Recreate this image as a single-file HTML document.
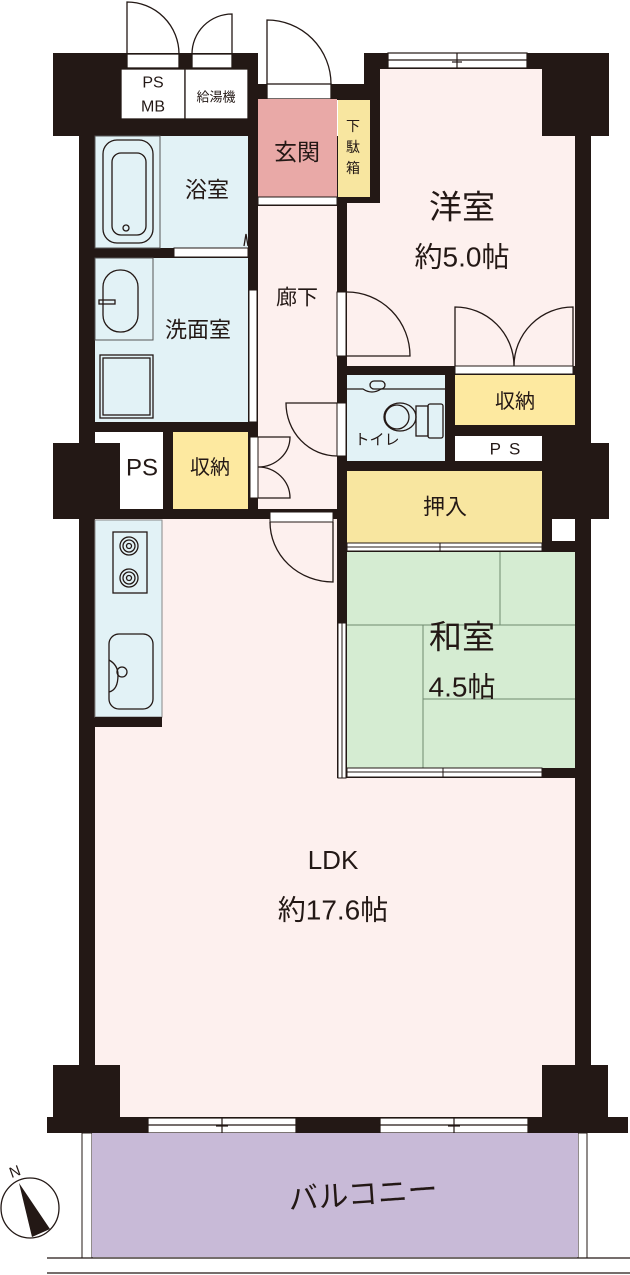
<!DOCTYPE html>
<html><head><meta charset="utf-8"><style>
html,body{margin:0;padding:0;background:#fff;}
svg{display:block;}
text{font-family:"Liberation Sans","Noto Sans CJK JP",sans-serif;fill:#231815;text-anchor:middle;dominant-baseline:central;}
</style></head><body>
<svg width="630" height="1275" viewBox="0 0 630 1275" xmlns="http://www.w3.org/2000/svg">
<g fill="#231815">
<rect x="53" y="53" width="205" height="83"/>
<rect x="248" y="84" width="120" height="16"/>
<rect x="364" y="53" width="245" height="83"/>
<rect x="79" y="136" width="512" height="981"/>
<rect x="53" y="443" width="67" height="76"/>
<rect x="542" y="443" width="67" height="76"/>
<rect x="47" y="1117" width="581" height="16"/>
</g>
<!-- top doors -->
<g fill="#fff" stroke="#231815" stroke-width="1.3">
<rect x="127" y="54" width="52" height="14"/>
<rect x="192" y="54" width="40" height="14"/>
<rect x="267" y="84" width="64" height="15"/>
<rect x="121" y="69" width="64" height="50"/>
<rect x="185" y="69" width="63" height="50"/>
</g>
<g fill="none" stroke="#231815" stroke-width="1.3">
<path d="M127 54 V2 A52 52 0 0 1 179 54"/>
<path d="M232 54 V14 A40 40 0 0 0 192 54"/>
<path d="M267 84 V20 A64 64 0 0 1 331 84"/>
</g>
<!-- windows -->
<g fill="#fff" stroke="#231815" stroke-width="1.2">
<rect x="388" y="53" width="139" height="15"/>
<rect x="148" y="1118" width="148" height="15"/>
<rect x="380" y="1118" width="148" height="15"/>
</g>
<g stroke="#231815" stroke-width="1.2">
<line x1="388" y1="60" x2="527" y2="60"/><line x1="457" y1="53" x2="457" y2="68"/><line x1="452" y1="62" x2="462" y2="62"/>
<line x1="148" y1="1125" x2="296" y2="1125"/><line x1="222" y1="1118" x2="222" y2="1133"/><line x1="216" y1="1126" x2="228" y2="1126"/>
<line x1="380" y1="1125" x2="528" y2="1125"/><line x1="454" y1="1118" x2="454" y2="1133"/><line x1="448" y1="1126" x2="460" y2="1126"/>
</g>
<!-- rooms -->
<rect x="258" y="99" width="79" height="98" fill="#e9a9a7"/>
<rect x="338" y="100" width="32" height="97" fill="#f8e6a0"/>
<rect x="258" y="197" width="79" height="8" fill="#fff" stroke="#231815" stroke-width="1"/>
<rect x="258" y="206" width="79" height="303" fill="#fdf0ee"/>
<polygon points="380,69 542,69 542,136 575,136 575,366 347,366 347,203 380,203" fill="#fdf0ee"/>
<rect x="95" y="136" width="153" height="112" fill="#e2f2f6"/>
<rect x="95" y="136" width="65" height="112" fill="none" stroke="#555" stroke-width="1"/>
<rect x="174" y="248" width="74" height="9" fill="#fff" stroke="#231815" stroke-width="1"/>
<rect x="95" y="258" width="153" height="164" fill="#e2f2f6"/>
<rect x="95" y="258" width="58" height="82" fill="none" stroke="#555" stroke-width="1"/>
<rect x="249" y="290" width="8" height="132" fill="#fff" stroke="#231815" stroke-width="1"/>
<rect x="95" y="432" width="68" height="77" fill="#fff"/>
<rect x="53" y="443" width="67" height="76" fill="#231815"/>
<rect x="173" y="432" width="75" height="77" fill="#fde9a0"/>
<rect x="250" y="437" width="8" height="61" fill="#fff" stroke="#231815" stroke-width="1"/>
<rect x="347" y="375" width="98" height="86" fill="#e2f2f6"/>
<rect x="455" y="375" width="120" height="50" fill="#fde9a0"/>
<rect x="455" y="436" width="87" height="25" fill="#fff"/>
<rect x="347" y="471" width="195" height="72" fill="#f8e6a0"/>
<rect x="552" y="519" width="23" height="22" fill="#fff"/>
<rect x="347" y="552" width="228" height="216" fill="#d5ecd2"/>
<g stroke="#6f8a6f" stroke-width="1"><line x1="500" y1="552" x2="500" y2="625"/><line x1="347" y1="625" x2="575" y2="625"/><line x1="423" y1="625" x2="423" y2="768"/><line x1="423" y1="699" x2="575" y2="699"/></g>
<polygon points="95,519 337,519 337,778 575,778 575,1117 95,1117" fill="#fdf0ee"/>
<rect x="53" y="1065" width="67" height="52" fill="#231815"/>
<rect x="542" y="1065" width="66" height="52" fill="#231815"/>
<rect x="95" y="520" width="67" height="197" fill="#e2f2f6" stroke="#888" stroke-width="1"/>
<rect x="95" y="717" width="67" height="10" fill="#231815"/>
<rect x="82" y="1133" width="10" height="125" fill="#fff" stroke="#231815" stroke-width="1"/>
<rect x="578" y="1133" width="9" height="125" fill="#fff" stroke="#231815" stroke-width="1"/>
<rect x="92" y="1133" width="486" height="124" fill="#c8bad7"/>
<line x1="47" y1="1258" x2="630" y2="1258" stroke="#231815" stroke-width="1.3"/>
<line x1="47" y1="1273" x2="630" y2="1273" stroke="#231815" stroke-width="1.3"/>
<!-- sliding strips -->
<g fill="#fff" stroke="#231815" stroke-width="1">
<rect x="337" y="292" width="9" height="64"/>
<rect x="455" y="366" width="118" height="8"/>
<rect x="337" y="403" width="9" height="53"/>
<rect x="270" y="512" width="63" height="10"/>
<rect x="347" y="543" width="195" height="8"/>
<rect x="347" y="768" width="195" height="9"/>
<rect x="338" y="623" width="8" height="155"/>
</g>
<g stroke="#231815" stroke-width="1"><line x1="347" y1="547" x2="542" y2="547"/><line x1="440" y1="543" x2="440" y2="551"/><line x1="347" y1="772" x2="542" y2="772"/><line x1="443" y1="768" x2="443" y2="777"/><line x1="342" y1="623" x2="342" y2="778"/><line x1="542" y1="550" x2="582" y2="550"/></g>
<!-- doors -->
<g fill="none" stroke="#231815" stroke-width="1.3">
<path d="M347 292 A63 64 0 0 1 410 356 H347"/>
<path d="M455 366 V307 A59 59 0 0 1 514 366 A59 59 0 0 1 573 307 V366"/>
<path d="M337 403 H286 A51 53 0 0 0 337 456"/>
<path d="M258 437 H290 A32 30 0 0 1 258 467 A32 31 0 0 1 290 498 H258"/>
<path d="M333 522 V582 A63 60 0 0 1 270 522"/>
<rect x="103" y="140" width="50" height="103" rx="14"/>
<rect x="112" y="153" width="34" height="82" rx="9"/>
<circle cx="126" cy="228" r="3"/>
<rect x="103" y="270" width="35" height="62" rx="17"/>
<rect x="99" y="300" width="16" height="4"/>
<rect x="100" y="355" width="53" height="63"/>
<rect x="103" y="358" width="47" height="57"/>
<path d="M244 246 L246 234 L248 246"/>
<path d="M347 389 H363 Q372 395 381 389 H445"/>
<rect x="370" y="381" width="15" height="8" rx="4"/>
<ellipse cx="400" cy="417" rx="16" ry="14"/>
<circle cx="397" cy="417" r="12"/>
<rect x="416" y="406" width="12" height="30"/>
<rect x="428" y="404" width="15" height="34" rx="2"/>
<rect x="113" y="532" width="34" height="61"/>
<circle cx="129" cy="546" r="9"/><circle cx="129" cy="546" r="6"/><circle cx="129" cy="546" r="2.5"/>
<circle cx="129" cy="578" r="9"/><circle cx="129" cy="578" r="6"/><circle cx="129" cy="578" r="2.5"/>
<rect x="109" y="634" width="44" height="75" rx="10"/>
<path d="M109 660 Q118 665 118 675 Q118 690 109 692"/>
<circle cx="122" cy="672" r="5"/>
<ellipse cx="30" cy="1208" rx="29" ry="30"/>
</g>
<polygon points="19,1183 32,1237 50,1229" fill="#231815"/>
<text x="15" y="1172" font-size="15" transform="rotate(-20 15 1172)">N</text>
<!-- labels -->
<text x="153" y="83" font-size="16">PS</text>
<text x="153" y="107" font-size="16">MB</text>
<text x="216" y="97" font-size="13">給湯機</text>
<text x="297" y="152" font-size="23">玄関</text>
<text x="353" y="126" font-size="14">下</text>
<text x="353" y="147" font-size="14">駄</text>
<text x="353" y="168" font-size="14">箱</text>
<text x="207" y="190" font-size="22">浴室</text>
<text x="297" y="298" font-size="21">廊下</text>
<text x="198" y="330" font-size="22">洗面室</text>
<text x="462" y="207" font-size="33">洋室</text>
<text x="462" y="257" font-size="28">約5.0帖</text>
<text x="377" y="440" font-size="15">トイレ</text>
<text x="515" y="402" font-size="20">収納</text>
<text x="509" y="449" font-size="17" letter-spacing="8">PS</text>
<text x="142" y="468" font-size="24">PS</text>
<text x="210" y="468" font-size="20">収納</text>
<text x="445" y="507" font-size="22">押入</text>
<text x="462" y="637" font-size="33">和室</text>
<text x="462" y="687" font-size="28">4.5帖</text>
<text x="333" y="860" font-size="26">LDK</text>
<text x="333" y="910" font-size="28">約17.6帖</text>
<text x="363" y="1195" font-size="30" transform="rotate(-4 363 1195)">バルコニー</text>
</svg>
</body></html>
